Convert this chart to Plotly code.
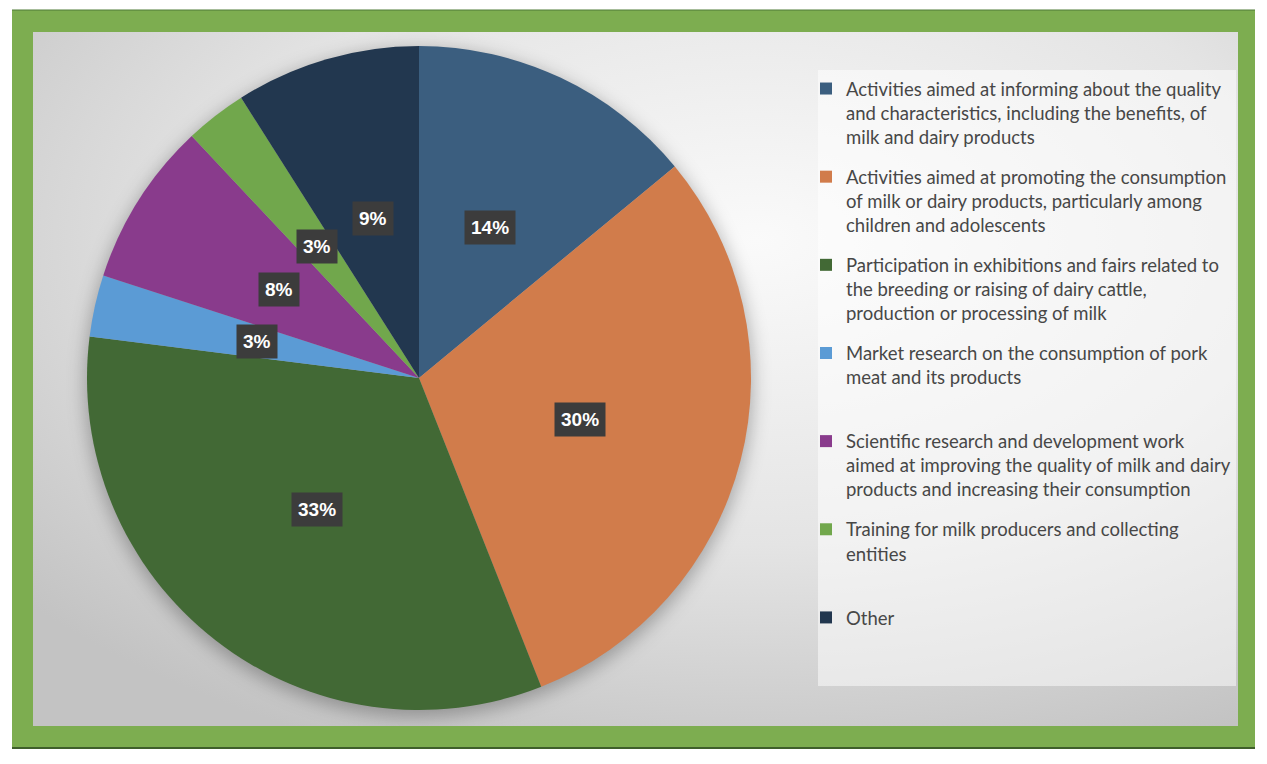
import math
from urllib.parse import quote
import plotly.graph_objects as go

# the page body has an 8px margin, so the figure is laid out in window pixels minus 8
OX, OY = 8, 8
FW, FH = 1251, 748

# data
categories = [
    "Activities aimed at informing about the quality<br>and characteristics, including the benefits, of<br>milk and dairy products",
    "Activities aimed at promoting the consumption<br>of milk or dairy products, particularly among<br>children and adolescents",
    "Participation in exhibitions and fairs related to<br>the breeding or raising of dairy cattle,<br>production or processing of milk",
    "Market research on the consumption of pork<br>meat and its products",
    "Scientific research and development work<br>aimed at improving the quality of milk and dairy<br>products and increasing their consumption",
    "Training for milk producers and collecting<br>entities",
    "Other",
]
shares = [14, 30, 33, 3, 8, 3, 9]
colors = ["#3b5e7f", "#d17c4b", "#426935", "#5b9bd5", "#893b8c", "#71a74c", "#22374f"]


def fx(px_):
    return (px_ - OX) / FW


def fy(py_):
    return 1 - (py_ - OY) / FH


# pie geometry (window pixels)
cx, cy, R = 419, 378, 332

fig = go.Figure()
fig.add_trace(go.Pie(
    labels=categories, values=shares, sort=False, direction="clockwise", rotation=0,
    marker=dict(colors=colors, line=dict(width=0)),
    textinfo="none", hoverinfo="label+percent", showlegend=False,
    domain=dict(x=[fx(cx - R), fx(cx + R)], y=[fy(cy + R), fy(cy - R)]),
))

# legend entries (one group each so they can be spaced evenly)
for name, col in zip(categories, colors):
    n = name.count("<br>") + 1
    fig.add_trace(go.Scatter(x=[None], y=[None], mode="markers", name=name + "<br> " * (3 - n),
                             marker=dict(symbol="square", size=12, color=col),
                             legendgroup=name, showlegend=True))

# percentage labels in dark boxes, half way out on each slice's mid angle
total = sum(shares)
cum = 0
for v in shares:
    mid = (cum + v / 2) / total * 2 * math.pi
    cum += v
    lx = cx + 0.5 * R * math.sin(mid)
    ly = cy - 0.5 * R * math.cos(mid)
    fig.add_annotation(x=fx(lx), y=fy(ly), xref="paper", yref="paper",
                       xanchor="center", yanchor="middle",
                       text="<b>%d%%</b>" % round(v / total * 100), showarrow=False,
                       font=dict(family="Liberation Sans, Arial", size=19, color="white"),
                       bgcolor="#3c3c3c", borderpad=6)

# background: grey gradient with a soft pie shadow
bx0, bx1, by0, by1 = 33, 1238, 32, 726
bw, bh = bx1 - bx0, by1 - by0
svg = (
    "<svg xmlns='http://www.w3.org/2000/svg' width='%d' height='%d' viewBox='0 0 %d %d' preserveAspectRatio='none'>"
    "<defs><radialGradient id='g' cx='0.6' cy='0.3' r='0.8'>"
    "<stop offset='0' stop-color='#fafafa'/><stop offset='0.55' stop-color='#e4e4e4'/>"
    "<stop offset='1' stop-color='#c3c3c3'/></radialGradient>"
    "<filter id='b' x='-20%%' y='-20%%' width='140%%' height='140%%'><feGaussianBlur stdDeviation='9'/></filter></defs>"
    "<rect width='%d' height='%d' fill='url(#g)'/>"
    "<circle cx='%d' cy='%d' r='%d' fill='rgba(0,0,0,0.28)' filter='url(#b)'/>"
    "</svg>"
) % (bw, bh, bw, bh, bw, bh, cx - bx0, cy - by0 + 5, R + 2)
fig.add_layout_image(source="data:image/svg+xml;charset=utf-8," + quote(svg),
                     xref="paper", yref="paper", x=fx(bx0), y=fy(by0),
                     sizex=bw / FW, sizey=bh / FH, sizing="stretch", layer="below",
                     xanchor="left", yanchor="top")

# green frame as four bars around the grey area
green = "#7dad50"
for x0, x1, y0, y1 in [(12, 1255, 10, by0), (12, 1255, by1, 748), (12, bx0, 10, 748), (bx1, 1255, 10, 748)]:
    fig.add_shape(type="rect", xref="paper", yref="paper", x0=fx(x0), x1=fx(x1), y0=fy(y1), y1=fy(y0),
                  fillcolor=green, line=dict(width=0), layer="below")
fig.add_shape(type="line", xref="paper", yref="paper", x0=fx(12), x1=fx(1255), y0=fy(748), y1=fy(748),
              line=dict(color="#3f5f2b", width=2), layer="below")
fig.add_shape(type="line", xref="paper", yref="paper", x0=fx(12), x1=fx(1255), y0=fy(10), y1=fy(10),
              line=dict(color="#4f7a36", width=1), layer="below")
# legend panel
fig.add_shape(type="rect", xref="paper", yref="paper", x0=fx(818), x1=fx(1236), y0=fy(686), y1=fy(70),
              fillcolor="rgba(255,255,255,0.5)", line=dict(width=0), layer="below")

fig.update_layout(
    width=FW, height=FH, margin=dict(l=0, r=0, t=0, b=0),
    paper_bgcolor="white", plot_bgcolor="rgba(0,0,0,0)",
    xaxis=dict(visible=False, domain=[0, 0.01]), yaxis=dict(visible=False, domain=[0, 0.01]),
    showlegend=True,
    legend=dict(x=fx(806), y=fy(70), xanchor="left", yanchor="top",
                valign="top", bgcolor="rgba(0,0,0,0)", tracegroupgap=13,
                font=dict(family="Lato", size=18.5, color="#474747")),
)

fig.write_html("out.html")
